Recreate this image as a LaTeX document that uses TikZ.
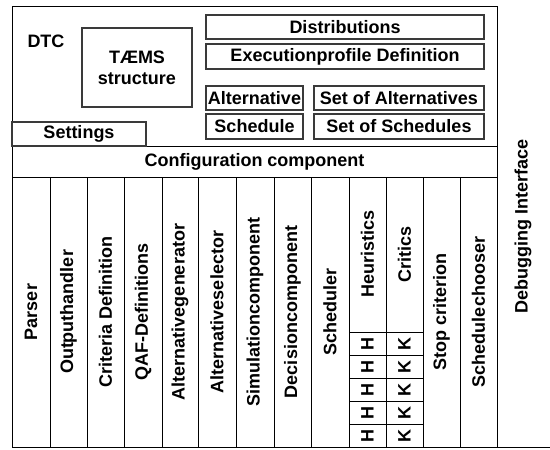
\documentclass[tikz,border=0pt]{standalone}
\usepackage{fontspec}
\setmainfont{Liberation Sans}
\definecolor{boxgray}{HTML}{3A3A3A}

\begin{document}
\begin{tikzpicture}[x=1pt,y=-1pt,line width=0.8pt,
    every node/.style={font=\fontsize{18}{20}\selectfont\bfseries, inner sep=0pt},
    part/.style={draw=boxgray, line width=1.1pt, minimum height=24},
    collabel/.style={rotate=90},
    cell/.style={draw, rotate=90, minimum width=23, minimum height=37}]
  \useasboundingbox (0,0) rectangle (550,450);

  % frame
  \draw (497,6) -- (12,6) -- (12,447) -- (550,447);
  \draw (497,6) -- (497,447);
  \draw (12,146) -- (497,146);
  \draw (12,177) -- (497,177);

  % DTC part
  \node (dtc) at (46,41) {DTC};
  \node[part, minimum width=110, minimum height=79, align=center] (taems) at (137,67.5) {T\AE MS\\[1pt]structure};
  \node[part, minimum width=134] (settings) at (79,134) {Settings};
  \node[part, minimum width=278] (distributions) at (345,27) {Distributions};
  \node[part, minimum width=278, minimum height=25] (execprofile) at (345,56.5) {Executionprofile Definition};
  \node[part, minimum width=97] (alternative) at (254.5,98) {Alternative};
  \node[part, minimum width=170] (setalternatives) at (399,98) {Set of Alternatives};
  \node[part, minimum width=97, minimum height=25] (schedule) at (254.5,126.5) {Schedule};
  \node[part, minimum width=170, minimum height=25] (setschedules) at (399,126.5) {Set of Schedules};

  \node (config) at (254.5,161.5) {Configuration component};

  % components
  \foreach \x in {50,87,124,162,198,236,274,311,349,386,423,460}
    \draw (\x,177) -- (\x,447);
  \foreach \cx/\txt [count=\k] in {31/Parser, 68.5/Outputhandler, 105.5/Criteria Definition,
      143/QAF-Definitions, 180/Alternativegenerator, 217/Alternativeselector,
      255/Simulationcomponent, 292.5/Decisioncomponent, 330/Scheduler,
      441.5/Stop criterion, 478.5/Schedulechooser}
    \node[collabel] (col\k) at (\cx,312) {\txt};

  \node[collabel] (heuristics) at (367.5,254) {Heuristics};
  \node[collabel] (critics) at (404.5,254) {Critics};
  \foreach \cy [count=\k] in {343.5,366.5,389.5,412.5,435.5} {
    \node[cell] (h\k) at (367.5,\cy) {H};
    \node[cell] (k\k) at (404.5,\cy) {K};
  }

  \node[collabel] (debug) at (523,226) {Debugging Interface};
\end{tikzpicture}
\end{document}
